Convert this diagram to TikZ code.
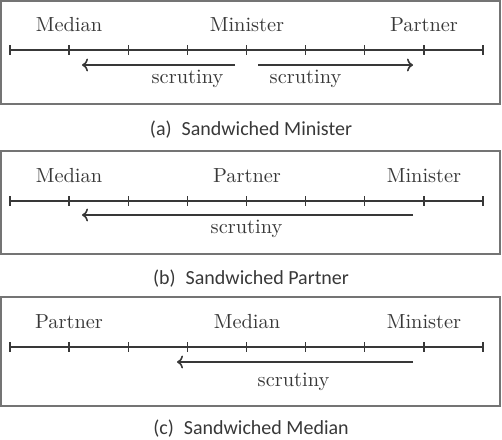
\documentclass[tikz,border=0pt]{standalone}
\usepackage{fontspec}
\newfontfamily\capfont{Carlito}
\usetikzlibrary{arrows.meta}
\definecolor{ink}{HTML}{383838}
\definecolor{frame}{HTML}{747474}
\begin{document}
\begin{tikzpicture}[x=0.5pt,y=-0.5pt,
  panel/.style={draw=frame, line width=0.85pt},
  axisline/.style={draw=ink, line width=0.85pt},
  tickmark/.style={draw=ink, line width=0.65pt},
  arr/.style={draw=ink, line width=0.8pt, -{To[length=3pt,width=6.5pt]}},
  lbl/.style={anchor=base, text=ink, font=\fontsize{10.2}{12}\selectfont, inner sep=0pt},
  captext/.style={anchor=base, text=ink, font=\capfont\fontsize{10}{12}\selectfont, inner sep=0pt}]
\useasboundingbox (0,0) rectangle (502,439);

% ---------- panel (a)
\draw[panel] (1,1) rectangle (500,104);
\foreach \i in {0,...,8} \coordinate (a\i) at ({10+59.125*\i},50);
\draw[axisline] (a0) -- (a8);
\foreach \i in {0,...,8} \draw[tickmark] (a\i) ++(0,-5) -- ++(0,10);
\node[lbl] (aMed) at (69,32) {Median};
\node[lbl] (aMin) at (247,32) {Minister};
\node[lbl] (aPar) at (424,32) {Partner};
\coordinate (aL1) at (235,65); \coordinate (aL2) at (82,65);
\coordinate (aR1) at (258,65); \coordinate (aR2) at (413,65);
\draw[arr] (aL1) -- (aL2);
\draw[arr] (aR1) -- (aR2);
\node[lbl] (aS1) at (187.5,83) {scrutiny};
\node[lbl] (aS2) at (305.5,83) {scrutiny};
\node[captext] (capA) at (251,135) {(a)\hspace{5pt}Sandwiched Minister};

% ---------- panel (b)
\draw[panel] (1,151) rectangle (500,254);
\foreach \i in {0,...,8} \coordinate (b\i) at ({10+59.125*\i},201);
\draw[axisline] (b0) -- (b8);
\foreach \i in {0,...,8} \draw[tickmark] (b\i) ++(0,-5) -- ++(0,10);
\node[lbl] (bMed) at (69,182) {Median};
\node[lbl] (bPar) at (247,182) {Partner};
\node[lbl] (bMin) at (424,182) {Minister};
\coordinate (bL1) at (413,215); \coordinate (bL2) at (82,215);
\draw[arr] (bL1) -- (bL2);
\node[lbl] (bS) at (246.5,233) {scrutiny};
\node[captext] (capB) at (251,284.5) {(b)\hspace{5pt}Sandwiched Partner};

% ---------- panel (c)
\draw[panel] (1,297) rectangle (500,406);
\foreach \i in {0,...,8} \coordinate (c\i) at ({10+59.125*\i},347);
\draw[axisline] (c0) -- (c8);
\foreach \i in {0,...,8} \draw[tickmark] (c\i) ++(0,-5) -- ++(0,10);
\node[lbl] (cPar) at (69,328) {Partner};
\node[lbl] (cMed) at (247,328) {Median};
\node[lbl] (cMin) at (424,328) {Minister};
\coordinate (cL1) at (413,362); \coordinate (cL2) at (177,362);
\draw[arr] (cL1) -- (cL2);
\node[lbl] (cS) at (293.5,386) {scrutiny};
\node[captext] (capC) at (251,434.5) {(c)\hspace{5pt}Sandwiched Median};
\end{tikzpicture}
\end{document}
